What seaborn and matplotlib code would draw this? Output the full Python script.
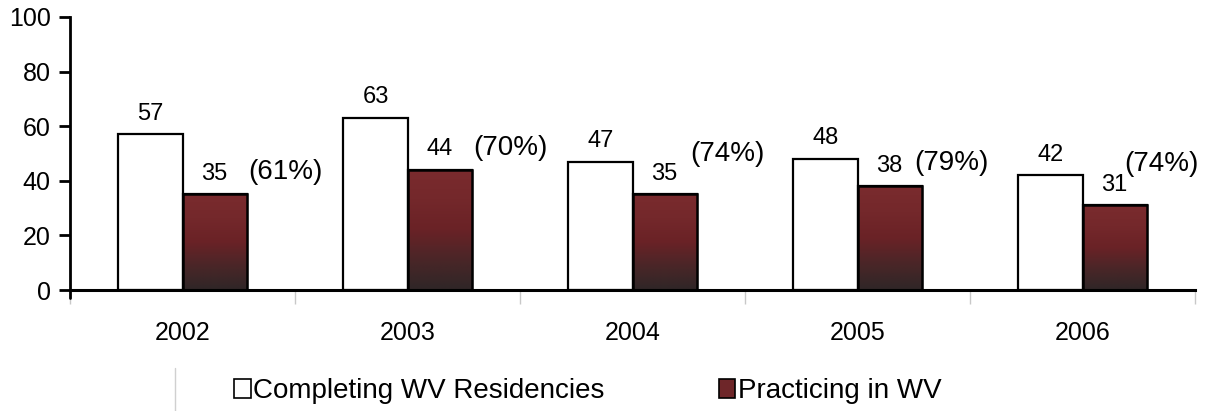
"""
WV residency completion vs. practicing in WV, 2002-2006
"""

import matplotlib
matplotlib.use("Agg")
import matplotlib.pyplot as plt
from matplotlib.colors import LinearSegmentedColormap
from matplotlib.lines import Line2D
from matplotlib.patches import Patch
import seaborn as sns
import numpy as np
import pandas as pd

sns.set_style("white")
plt.rcParams['font.family'] = ['Liberation Sans', 'DejaVu Sans']
plt.rcParams['text.color'] = 'black'
plt.rcParams['xtick.color'] = 'black'
plt.rcParams['ytick.color'] = 'black'
plt.rcParams['axes.edgecolor'] = 'black'

# Data
years = ['2002', '2003', '2004', '2005', '2006']
completing = [57, 63, 47, 48, 42]
practicing = [35, 44, 35, 38, 31]
retention = ['(61%)', '(70%)', '(74%)', '(79%)', '(74%)']
series_names = ['Completing WV Residencies', 'Practicing in WV']

# where the retention labels sit (category x, data y)
retention_pos = [(0.456, 43.2), (1.456, 52.0), (2.42, 49.8), (3.416, 46.5), (4.349, 46.2)]

df = pd.DataFrame({
    'year': years * 2,
    'value': completing + practicing,
    'series': [series_names[0]] * len(years) + [series_names[1]] * len(years),
})

dark_red = '#6e2629'
grad = LinearSegmentedColormap.from_list(
    'redgrad', ['#2f2627', '#4a2628', '#6a2226', '#74282b', '#7a2b2e'])

fig = plt.figure(figsize=(12.05, 4.11), dpi=100)
ax = fig.add_axes([70 / 1205, 1 - 290 / 411, 1125 / 1205, 273 / 411])

sns.barplot(data=df, x='year', y='value', hue='series', order=years,
            hue_order=series_names, palette=['white', dark_red],
            width=0.57, edgecolor='black', linewidth=1.6, saturation=1,
            legend=False, ax=ax)

# gradient fill for the "practicing" bars
n = len(years)
white_bars = ax.patches[:n]
red_bars = ax.patches[n:2 * n]
for p in red_bars:
    x0, y0 = p.get_x(), p.get_y()
    w, h = p.get_width(), p.get_height()
    img = ax.imshow(np.linspace(0, 1, 256).reshape(-1, 1), cmap=grad,
                    extent=[x0, x0 + w, y0, y0 + h], origin='lower',
                    aspect='auto', zorder=p.get_zorder() + 0.1)
    img.set_clip_path(p)
    # redraw the outline on top
    ax.add_patch(plt.Rectangle((x0, y0), w, h, fill=False, edgecolor='black',
                               linewidth=1.8, zorder=p.get_zorder() + 0.2))
ax.set_xlim(-0.5, 4.5)
ax.set_ylim(0, 100)
ax.set_aspect('auto')

# value labels
for bars, vals in [(white_bars, completing), (red_bars, practicing)]:
    for p, v in zip(bars, vals):
        ax.annotate(f'{v}', (p.get_x() + p.get_width() / 2, p.get_height()),
                    xytext=(0, 7), textcoords='offset points',
                    ha='center', va='bottom', fontsize=17)

for txt, (xp, yp) in zip(retention, retention_pos):
    ax.text(xp, yp, txt, ha='center', va='center', fontsize=20)

# axes styling
for s in ['top', 'right']:
    ax.spines[s].set_visible(False)
ax.spines['left'].set_linewidth(2)
ax.spines['bottom'].set_linewidth(2.2)
ax.set_yticks(np.arange(0, 101, 20))
ax.tick_params(axis='y', direction='out', length=8, width=2, pad=6,
               labelsize=18, left=True)
ax.tick_params(axis='x', length=0, pad=22, labelsize=18)
ax.set_xticks(np.arange(-0.5, 4.6, 1), minor=True)
ax.tick_params(axis='x', which='minor', direction='out', length=10,
               width=1, color='#c8c8c8', bottom=True)
ax.set_xlabel('')
ax.set_ylabel('')
# y spine pokes a little below the x axis
ax.plot([-0.5, -0.5], [0, -3], color='black', lw=2, clip_on=False)

# legend
handles = [Patch(facecolor='white', edgecolor='black', linewidth=1.2),
           Patch(facecolor=dark_red, edgecolor='black', linewidth=1.2)]
fig.legend(handles, series_names, loc='center left',
           bbox_to_anchor=(220 / 1205, 1 - 391 / 411),
           ncol=2, frameon=False, borderpad=0, handlelength=0.6,
           handleheight=0.65, handletextpad=0.1, columnspacing=4.1,
           prop={'family': ['Liberation Sans', 'DejaVu Sans'], 'size': 20})
fig.add_artist(Line2D([175 / 1205, 175 / 1205], [0.0, 1 - 368 / 411],
                      color='#d0d0d0', lw=1))

plt.savefig('out.png', dpi=100)
plt.close()
